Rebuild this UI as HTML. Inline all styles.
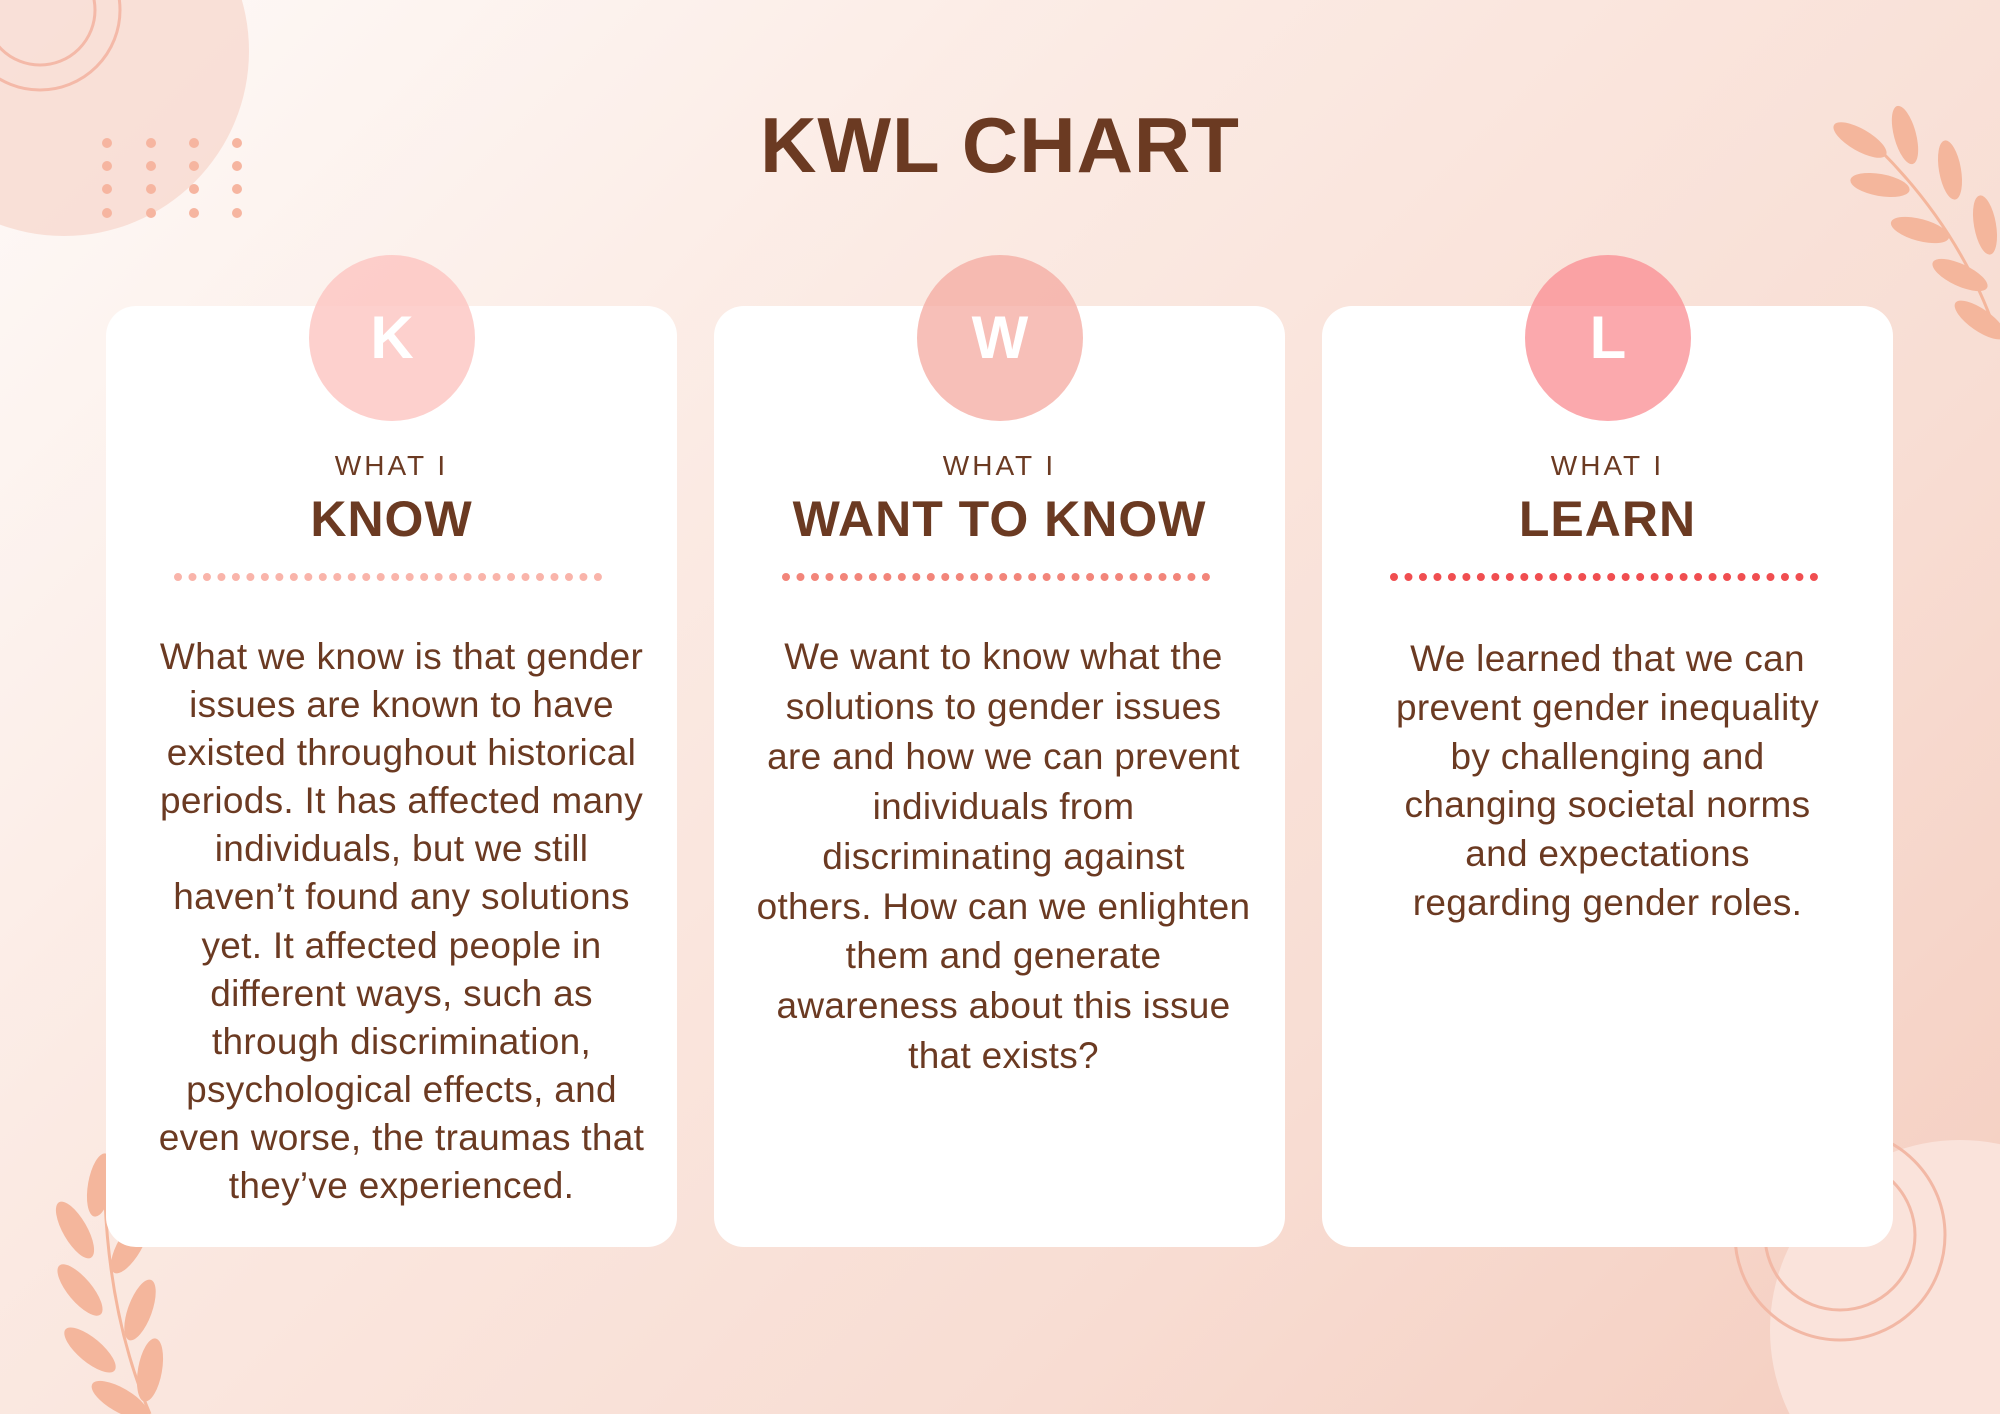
<!DOCTYPE html>
<html style="overflow:hidden;width:2000px;height:1414px"><head><meta charset="utf-8"><style>
html,body{margin:0;padding:0}
body{position:relative;width:2000px;height:1414px;overflow:hidden;font-family:"Liberation Sans",sans-serif;}
#bg{position:absolute;left:0;top:0;width:2000px;height:1414px;background:linear-gradient(135deg,#fefaf8 0%,#fbeae3 35%,#f8ddd3 70%,#f4cdbf 100%);overflow:hidden}
.card{position:absolute;top:306px;width:571px;height:941px;background:#fff;border-radius:30px}
.circ{position:absolute;top:255px;width:166px;height:166px;border-radius:50%;color:#fff;font-weight:bold;font-size:60px;text-align:center;line-height:166px}
.what{position:absolute;top:450px;width:571px;text-align:center;font-size:28px;letter-spacing:3px;color:#6b3a22}
.head{position:absolute;top:490px;width:571px;text-align:center;font-size:50px;font-weight:bold;color:#6b3a22;letter-spacing:1px}
.dots{position:absolute;top:573px;height:8px}
.body{position:absolute;width:571px;text-align:center;color:#6b3a22;font-size:37px;letter-spacing:0.3px}
.body div{white-space:nowrap}
</style></head><body>
<div id="bg">
<svg width="2000" height="1414" style="position:absolute;left:0;top:0">
<circle cx="64" cy="51" r="185" fill="#f8d9cf" opacity="0.8"/>
<circle cx="40" cy="10" r="80" fill="none" stroke="#f4b9a8" stroke-width="3"/>
<circle cx="40" cy="10" r="55" fill="none" stroke="#f4b9a8" stroke-width="3"/>
<g fill="#f6b5a0">
<circle cx="107" cy="143" r="5"/><circle cx="151" cy="143" r="5"/><circle cx="194" cy="143" r="5"/><circle cx="237" cy="143" r="5"/>
<circle cx="107" cy="166" r="5"/><circle cx="151" cy="166" r="5"/><circle cx="194" cy="166" r="5"/><circle cx="237" cy="166" r="5"/>
<circle cx="107" cy="189" r="5"/><circle cx="151" cy="189" r="5"/><circle cx="194" cy="189" r="5"/><circle cx="237" cy="189" r="5"/>
<circle cx="107" cy="213" r="5"/><circle cx="151" cy="213" r="5"/><circle cx="194" cy="213" r="5"/><circle cx="237" cy="213" r="5"/>
</g>
<circle cx="1960" cy="1330" r="190" fill="#fae3db"/>
<circle cx="1840" cy="1235" r="105" fill="none" stroke="#f2b8a5" stroke-width="3"/>
<circle cx="1840" cy="1235" r="75" fill="none" stroke="#f2b8a5" stroke-width="3"/>
<g fill="#f4b69c">
<ellipse cx="1860" cy="140" rx="30" ry="11" transform="rotate(30 1860 140)"/>
<ellipse cx="1905" cy="135" rx="30" ry="11" transform="rotate(75 1905 135)"/>
<ellipse cx="1880" cy="185" rx="30" ry="11" transform="rotate(10 1880 185)"/>
<ellipse cx="1950" cy="170" rx="30" ry="11" transform="rotate(80 1950 170)"/>
<ellipse cx="1920" cy="230" rx="30" ry="11" transform="rotate(15 1920 230)"/>
<ellipse cx="1985" cy="225" rx="30" ry="11" transform="rotate(80 1985 225)"/>
<ellipse cx="1960" cy="275" rx="30" ry="11" transform="rotate(25 1960 275)"/>
<ellipse cx="1980" cy="320" rx="30" ry="11" transform="rotate(35 1980 320)"/>
<ellipse cx="100" cy="1185" rx="32" ry="12" transform="rotate(-80 100 1185)"/>
<ellipse cx="75" cy="1230" rx="32" ry="12" transform="rotate(60 75 1230)"/>
<ellipse cx="130" cy="1245" rx="32" ry="12" transform="rotate(-60 130 1245)"/>
<ellipse cx="80" cy="1290" rx="32" ry="12" transform="rotate(50 80 1290)"/>
<ellipse cx="140" cy="1310" rx="32" ry="12" transform="rotate(-70 140 1310)"/>
<ellipse cx="90" cy="1350" rx="32" ry="12" transform="rotate(40 90 1350)"/>
<ellipse cx="150" cy="1370" rx="32" ry="12" transform="rotate(-80 150 1370)"/>
<ellipse cx="120" cy="1400" rx="32" ry="12" transform="rotate(30 120 1400)"/>
</g>
<path d="M1880 150 Q1960 230 1995 330" stroke="#f4b69c" stroke-width="3" fill="none"/>
<path d="M105 1200 Q110 1320 150 1414" stroke="#f4b69c" stroke-width="3" fill="none"/>
</svg>
</div>
<div style="position:absolute;top:100px;left:0;width:2000px;text-align:center;font-size:78px;font-weight:bold;color:#6b3a22;letter-spacing:1px">KWL CHART</div>

<div class="card" style="left:106px"></div>
<div class="card" style="left:714px"></div>
<div class="card" style="left:1322px"></div>

<div class="circ" style="left:309px;background:rgba(252,196,192,0.8)">K</div>
<div class="circ" style="left:917px;background:rgba(244,170,160,0.75)">W</div>
<div class="circ" style="left:1525px;background:rgba(250,140,145,0.75)">L</div>

<div class="what" style="left:106px">WHAT I</div>
<div class="what" style="left:714px">WHAT I</div>
<div class="what" style="left:1322px">WHAT I</div>
<div class="head" style="left:106px">KNOW</div>
<div class="head" style="left:714px">WANT TO KNOW</div>
<div class="head" style="left:1322px">LEARN</div>

<svg class="dots" style="left:174px" width="430" height="8"><line x1="4" y1="4" x2="424" y2="4" stroke="#f9b4aa" stroke-width="8" stroke-linecap="round" stroke-dasharray="0 14.48"/></svg>
<svg class="dots" style="left:782px" width="430" height="8"><line x1="4" y1="4" x2="424" y2="4" stroke="#f2857a" stroke-width="8" stroke-linecap="round" stroke-dasharray="0 14.48"/></svg>
<svg class="dots" style="left:1390px" width="430" height="8"><line x1="4" y1="4" x2="424" y2="4" stroke="#f04e50" stroke-width="8" stroke-linecap="round" stroke-dasharray="0 14.48"/></svg>

<div class="body" style="left:116px;top:633px;line-height:48.1px">
<div>What we know is that gender</div><div>issues are known to have</div><div>existed throughout historical</div><div>periods. It has affected many</div><div>individuals, but we still</div><div>haven’t found any solutions</div><div>yet. It affected people in</div><div>different ways, such as</div><div>through discrimination,</div><div>psychological effects, and</div><div>even worse, the traumas that</div><div>they’ve experienced.</div>
</div>
<div class="body" style="left:718px;top:632px;line-height:49.9px">
<div>We want to know what the</div><div>solutions to gender issues</div><div>are and how we can prevent</div><div>individuals from</div><div>discriminating against</div><div>others. How can we enlighten</div><div>them and generate</div><div>awareness about this issue</div><div>that exists?</div>
</div>
<div class="body" style="left:1322px;top:635px;line-height:48.8px">
<div>We learned that we can</div><div>prevent gender inequality</div><div>by challenging and</div><div>changing societal norms</div><div>and expectations</div><div>regarding gender roles.</div>
</div>
</body></html>
